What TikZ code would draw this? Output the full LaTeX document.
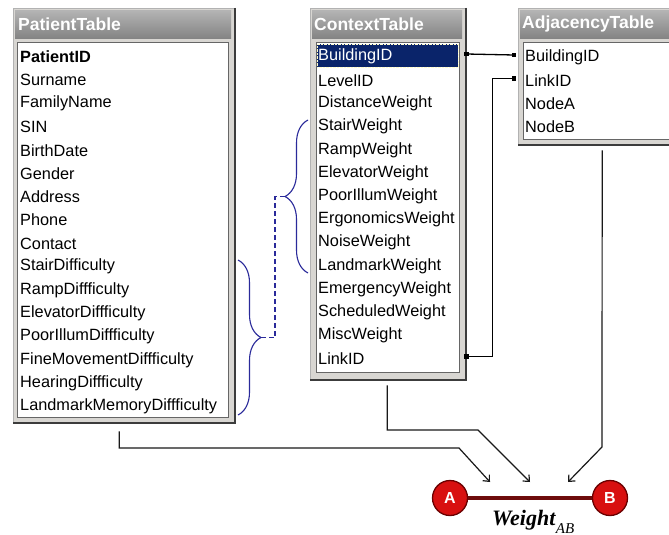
\documentclass[tikz,border=0pt]{standalone}
\usepackage{fontspec}
\setmainfont{Liberation Sans}
\newfontfamily\wfont{Liberation Serif}
\usetikzlibrary{decorations.pathreplacing,arrows.meta}
\definecolor{framegray}{HTML}{D8D6D2}
\definecolor{edgedark}{HTML}{3C3C3C}
\definecolor{titletop}{HTML}{B4B4B4}
\definecolor{titlebot}{HTML}{848484}
\definecolor{selnavy}{HTML}{0A246A}
\definecolor{bracecol}{HTML}{2A2A9A}
\definecolor{vertred}{HTML}{D81010}
\definecolor{vertedge}{HTML}{6A0000}
\definecolor{barcol}{HTML}{6E0C0C}
\begin{document}
\begin{tikzpicture}[x=1pt,y=-1pt,
  tframe/.style={anchor=north west, inner sep=0pt, fill=framegray, draw=gray!60},
  ttitle/.style={anchor=north west, inner sep=0pt, top color=titletop, bottom color=titlebot, minimum height=28pt},
  ttext/.style={anchor=west, inner sep=0pt, text=white, font=\fontsize{17.5}{20}\selectfont\bfseries},
  tlist/.style={anchor=north west, inner sep=0pt, fill=white, draw=gray!80!black, line width=0.8pt},
  trow/.style={anchor=west, inner sep=0pt, font=\fontsize{16.3}{18}\selectfont},
  darkedge/.style={draw=edgedark, line width=2pt},
  link/.style={draw=black, line width=1.3pt},
  sq/.style={fill=black, inner sep=0pt, minimum size=4.5pt},
  flow/.style={draw=black!90, line width=1.2pt, -{Straight Barb[length=5pt,width=9pt]}},
  bracestyle/.style={draw=bracecol, line width=1.1pt, decorate, decoration={brace, amplitude=23pt}},
  vert/.style={circle, fill=vertred, draw=vertedge, line width=1.3pt, minimum size=35pt, inner sep=0pt, text=white, font=\fontsize{16}{16}\selectfont\bfseries},
]
\clip (0,0) rectangle (669,535);
\fill[white] (0,0) rectangle (669,535);

% ---------- PatientTable ----------
\node[tframe, minimum width=222pt, minimum height=415pt] (pt) at (13,8) {};
\draw[darkedge] (pt.north east) -- (pt.south east) -- (pt.south west);
\node[ttitle, minimum width=216pt] (ptt) at (15,10) {};
\node[ttext] (ptn) at (18,24) {PatientTable};
\node[tlist, minimum width=211pt, minimum height=375pt] (ptl) at (17,42) {};
\node[trow, font=\fontsize{16.3}{18}\selectfont\bfseries] (p0) at (20,57) {PatientID};
\foreach \t [count=\i from 1] in {Surname,FamilyName,SIN,BirthDate,Gender,Address,Phone,Contact,StairDifficulty,RampDiffficulty,ElevatorDiffficulty,PoorIllumDiffficulty,FineMovementDiffficulty,HearingDiffficulty,LandmarkMemoryDiffficulty}
  \node[trow] (p\i) at (20,57+23.3*\i) {\t};

% ---------- ContextTable ----------
\node[tframe, minimum width=156pt, minimum height=372pt] (ct) at (310,8) {};
\draw[darkedge] (ct.north east) -- (ct.south east) -- (ct.south west);
\node[ttitle, minimum width=150pt] (ctt) at (312,10) {};
\node[ttext] (ctn) at (314,24) {ContextTable};
\node[tlist, minimum width=143pt, minimum height=330pt] (ctl) at (316,42) {};
\node[anchor=north west, inner sep=0pt, fill=selnavy, draw=white!80!yellow, densely dotted, minimum width=141pt, minimum height=23pt] (sel) at (317,44) {};
\node[trow, text=white] (c0) at (318,56) {BuildingID};
\foreach \t [count=\i from 1] in {LevelID,DistanceWeight,StairWeight,RampWeight,ElevatorWeight,PoorIllumWeight,ErgonomicsWeight,NoiseWeight,LandmarkWeight,EmergencyWeight,ScheduledWeight,MiscWeight,LinkID}
  \node[trow] (c\i) at (318,57+23.2*\i) {\t};

% ---------- AdjacencyTable ----------
\node[tframe, minimum width=170pt, minimum height=137pt] (at) at (518,8) {};
\draw[darkedge] (at.south east) -- (at.south west);
\node[ttitle, minimum width=170pt] (att) at (520,10) {};
\node[ttext] (atn) at (522,24) {AdjacencyTable};
\node[tlist, minimum width=170pt, minimum height=97pt] (atl) at (523,42) {};
\foreach \t [count=\i from 0] in {BuildingID,LinkID,NodeA,NodeB}
  \node[trow] (a\i) at (525,57+23.3*\i) {\t};

% ---------- key links ----------
\draw[link] ([yshift=2pt]ct.east |- c0) node[sq]{} -- ([xshift=-4pt,yshift=2pt]at.west |- a0) node[sq]{};
\draw[link] ([yshift=2pt]ct.east |- c13) node[sq]{} -- ++(26,0) |- ([xshift=-4pt,yshift=2pt]at.west |- a1) node[sq]{};

% ---------- braces ----------
\draw[bracestyle] (308,273) -- (308,120);
\draw[bracestyle] (238,260) -- (238,415);
\coordinate (tipC) at (285,196.5);
\coordinate (tipP) at (261,337.5);
\draw[draw=bracecol, line width=1.1pt, dash pattern=on 5pt off 3pt] (tipP) -- ++(14,0) |- (tipC);

% ---------- edge A-B ----------
\node[vert] (A) at (450,498) {A};
\node[vert] (B) at (610,498) {B};
\draw[barcol, line width=4.5pt] (A) -- (B);
\node[anchor=base west, inner sep=0pt, font=\wfont\fontsize{22}{24}\selectfont] (w) at (492,525) {\textbf{\textit{Weight}}\raisebox{-8pt}{\fontsize{15}{15}\selectfont\itshape AB}};

% ---------- flows ----------
\coordinate (t1) at (490,482);
\coordinate (t2) at (530,482);
\coordinate (t3) at (568,482);
\draw[flow] ([xshift=-5pt,yshift=-8pt]pt.south) |- (459,448) -- (t1);
\draw[flow] ([xshift=-1pt,yshift=-5pt]ct.south) |- (478,430) -- (t2);
\draw[flow] ([xshift=-1pt,yshift=-5pt]at.south) -- (602,447) -- (t3);
\end{tikzpicture}
\end{document}
